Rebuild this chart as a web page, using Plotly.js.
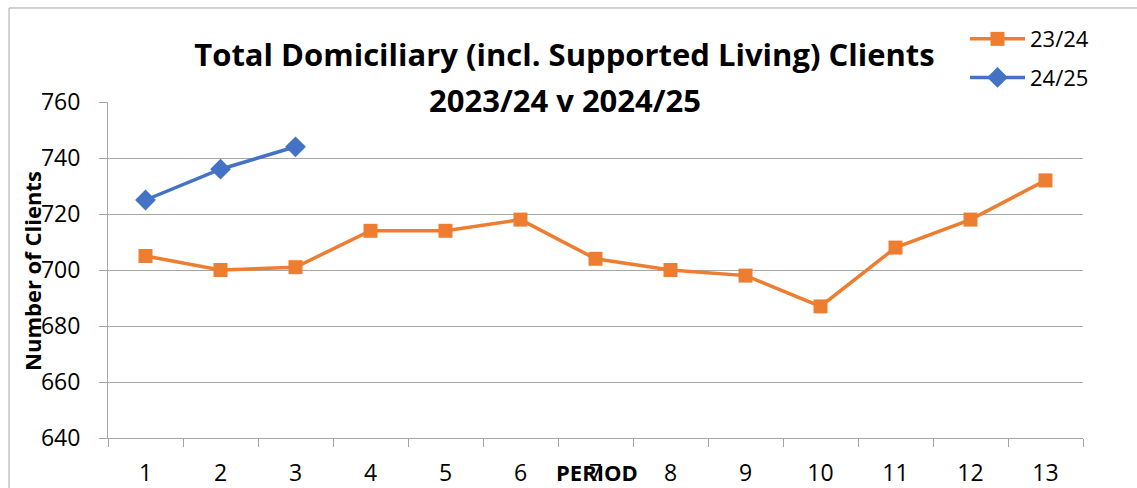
<!DOCTYPE html>
<html>
<head>
<meta charset="utf-8">
<script src="https://cdn.plot.ly/plotly-3.0.1.min.js"></script>
<style>html,body{margin:0;padding:0;background:#fff;}#chart{width:1137px;height:488px;}</style>
</head>
<body>
<div id="chart"></div>
<script>
const periods = ["1","2","3","4","5","6","7","8","9","10","11","12","13"];
const series2324 = [705, 700, 701, 714, 714, 718, 704, 700, 698, 687, 708, 718, 732];
const periods2425 = ["1","2","3"];
const series2425 = [725, 736, 744];
const yTicks = [640, 660, 680, 700, 720, 740, 760];

const FONT = "Open Sans, Noto Sans, sans-serif";
const traces = [
  {
    x: periods, y: series2324, name: "23/24", type: "scatter", mode: "lines+markers",
    legendgroup: "a",
    line: {color: "#ED7D31", width: 3.5},
    marker: {symbol: "square", size: 14, color: "#ED7D31"}
  },
  {
    x: periods2425, y: series2425, name: "24/25", type: "scatter", mode: "lines+markers",
    legendgroup: "b",
    line: {color: "#4472C4", width: 3.5},
    marker: {symbol: "diamond", size: 16, color: "#4472C4"}
  }
];
const layout = {
  width: 1137, height: 488,
  margin: {l: 108, r: 54, t: 102, b: 50, autoexpand: false},
  paper_bgcolor: "#fff", plot_bgcolor: "#fff",
  showlegend: true,
  font: {family: FONT, color: "#000", size: 19},
  title: {
    text: "<b>Total Domiciliary (incl. Supported Living) Clients</b>",
    font: {family: FONT, size: 31, color: "#000"},
    x: 564.5 / 1137, xanchor: "center", xref: "container",
    y: 1 - 55 / 488, yanchor: "middle", yref: "container"
  },
  legend: {
    x: 965 / 1137, xref: "container", xanchor: "left",
    y: 0.963, yref: "container", yanchor: "top",
    bgcolor: "rgba(0,0,0,0)",
    font: {family: FONT, size: 22, color: "#000"},
    itemwidth: 55, traceorder: "grouped", tracegroupgap: 7
  },
  xaxis: {
    type: "category", categoryarray: periods, range: [-0.5, 12.5], autorange: false,
    showgrid: false, showline: true, linecolor: "#a6a6a6", linewidth: 1,
    ticks: "outside", tickson: "boundaries", ticklen: 8, tickcolor: "#a6a6a6",
    tickfont: {family: FONT, size: 23, color: "#000"},
    ticklabelstandoff: 14,
    zeroline: false, fixedrange: true
  },
  yaxis: {
    range: [640, 760], tickvals: yTicks, ticktext: yTicks.map(String),
    showgrid: true, gridcolor: "#a6a6a6", gridwidth: 1,
    showline: true, linecolor: "#a6a6a6", linewidth: 1,
    ticks: "outside", ticklen: 8, tickcolor: "#a6a6a6",
    tickfont: {family: FONT, size: 23, color: "#000"},
    ticklabelstandoff: 14,
    zeroline: false, fixedrange: true
  },
  annotations: [
    {text: "<b>2023/24 v 2024/25</b>", xref: "paper", yref: "paper",
     x: (564.5 - 108) / 975, y: (438 - 100) / 336,
     xanchor: "center", yanchor: "middle", showarrow: false,
     font: {family: FONT, size: 31, color: "#000"}},
    {text: "<b>PERIOD</b>", xref: "paper", yref: "paper", x: 0.5015, y: -0.101,
     xanchor: "center", yanchor: "middle", showarrow: false,
     font: {family: FONT, size: 22, color: "#000"}},
    {text: "<b>Number of Clients</b>", xref: "paper", yref: "paper", x: -0.078, y: 0.497,
     xanchor: "center", yanchor: "middle", showarrow: false, textangle: -90,
     font: {family: FONT, size: 22, color: "#000"}}
  ],
  shapes: [
    {type: "rect", xref: "paper", yref: "paper", x0: -0.1015, x1: 1.2, y0: -0.5, y1: 1.2798,
     line: {color: "#a6a6a6", width: 1}, fillcolor: "rgba(0,0,0,0)", layer: "below"}
  ]
};
Plotly.newPlot("chart", traces, layout, {displayModeBar: false, staticPlot: true});
</script>
</body>
</html>
